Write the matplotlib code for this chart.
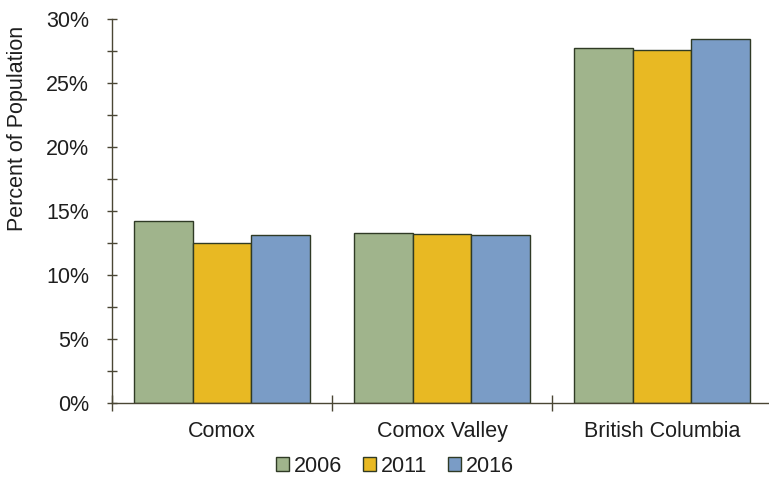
import matplotlib.pyplot as plt
import numpy as np
from matplotlib.ticker import MultipleLocator, FixedLocator, NullFormatter, FixedFormatter

plt.rcParams['font.family'] = ['Liberation Sans', 'DejaVu Sans']

regions = ["Comox", "Comox Valley", "British Columbia"]
years = ["2006", "2011", "2016"]
pct_2006 = [14.2, 13.3, 27.7]
pct_2011 = [12.5, 13.2, 27.6]
pct_2016 = [13.1, 13.1, 28.4]

colors = ["#a0b48c", "#e8b923", "#7a9cc6"]
axis_color = "#4a4634"
text_color = "#1e1e1e"
fs = 15.5

fig = plt.figure(figsize=(7.69, 4.83), dpi=100)
ax = fig.add_axes([112 / 769, 1 - 403 / 483, 660 / 769, 384 / 483])

x = np.arange(len(regions))
width = 0.268
for i, (vals, year) in enumerate(zip([pct_2006, pct_2011, pct_2016], years)):
    ax.bar(x + (i - 1) * width, vals, width, color=colors[i], edgecolor="#2f3a25",
           linewidth=1.0, label=year, zorder=2)

ax.set_xlim(-0.5, len(regions) - 0.5)
ax.set_ylim(0, 30)

for side in ["top", "right"]:
    ax.spines[side].set_visible(False)
for side in ["left", "bottom"]:
    ax.spines[side].set_color(axis_color)
    ax.spines[side].set_linewidth(1.0)

# y axis: labelled every 5%, unlabelled marks in between
ax.yaxis.set_minor_locator(MultipleLocator(2.5))
ax.set_yticks(np.arange(0, 31, 5))
ax.set_yticklabels([f"{v}%" for v in range(0, 31, 5)])
ax.tick_params(axis="y", which="both", direction="inout", length=7, width=1,
               color=axis_color, pad=13, labelsize=fs, labelcolor=text_color)

# x axis: marks between groups, names centred under each group
ax.xaxis.set_major_locator(FixedLocator([-0.5, 0.5, 1.5]))
ax.xaxis.set_major_formatter(NullFormatter())
ax.xaxis.set_minor_locator(FixedLocator(x))
ax.xaxis.set_minor_formatter(FixedFormatter(regions))
ax.tick_params(axis="x", which="major", direction="inout", length=12, width=1, color=axis_color)
ax.tick_params(axis="x", which="minor", length=0, pad=13, labelsize=fs, labelcolor=text_color)

fig.text(18 / 769, 1 - 128 / 483, "Percent of Population", rotation=90,
         ha="center", va="center", fontsize=fs, color=text_color)

leg = fig.legend(loc="center", bbox_to_anchor=(395 / 769, 1 - 466 / 483), ncol=3, frameon=False,
                 fontsize=fs, handlelength=0.6, handleheight=0.6, handletextpad=0.2,
                 columnspacing=1.0, borderpad=0)
for t in leg.get_texts():
    t.set_color(text_color)

fig.savefig("out.png", dpi=100)
